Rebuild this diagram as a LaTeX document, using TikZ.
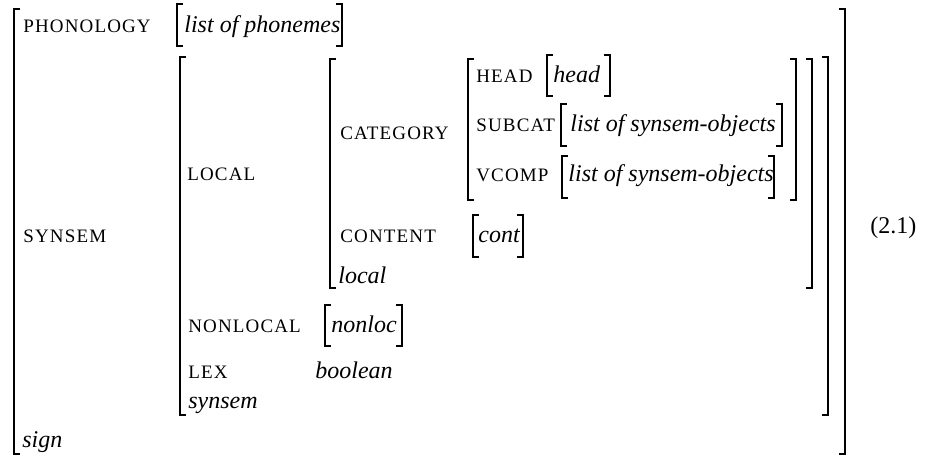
\documentclass[tikz,border=0pt,12pt]{standalone}
\usepackage{fontspec}
\setmainfont{Liberation Serif}
\newfontfamily\featfont[LetterSpace=6]{Liberation Serif}

\tikzset{
  feat/.style={anchor=base west,inner sep=0pt,font=\featfont\fontsize{9.5}{12}\selectfont},
  val/.style={anchor=base west,inner sep=0pt,font=\itshape},
  brack/.style={line width=0.6pt},
  brackend/.style={line width=1pt},
}
% brackets: x, top, bottom (y counts downwards)
\newcommand*{\LBr}[3]{%
  \pgfmathsetmacro{\endlen}{min(44,(#3-#2)/2)}%
  \draw[brack] (#1,#2) -- (#1,#3);
  \draw[brackend] (#1+6,#2) -- (#1,#2) -- (#1,#2+\endlen);
  \draw[brackend] (#1+6,#3) -- (#1,#3) -- (#1,#3-\endlen);}
\newcommand*{\RBr}[3]{%
  \pgfmathsetmacro{\endlen}{min(44,(#3-#2)/2)}%
  \draw[brack] (#1,#2) -- (#1,#3);
  \draw[brackend] (#1-6,#2) -- (#1,#2) -- (#1,#2+\endlen);
  \draw[brackend] (#1-6,#3) -- (#1,#3) -- (#1,#3-\endlen);}

\begin{document}
\begin{tikzpicture}[x=0.5pt,y=-0.5pt]
\useasboundingbox (0,0) rectangle (925,456);
% sign level
\node[feat] (phon) at (23,32) {PHONOLOGY};
\node[val] (phonval) at (184,32) {list of phonemes};
\node[feat] (synsem) at (23,242) {SYNSEM};
\node[val] (sign) at (22,447) {sign};
% synsem level
\node[feat] (local) at (187,180) {LOCAL};
\node[feat] (nonlocal) at (188,332) {NONLOCAL};
\node[val] (nonlocval) at (331,332) {nonloc};
\node[feat] (lex) at (188,378) {LEX};
\node[val] (lexval) at (315,378) {boolean};
\node[val] (synsemtype) at (188,408) {synsem};
% local level
\node[feat] (category) at (340,139) {CATEGORY};
\node[feat] (content) at (340,242) {CONTENT};
\node[val] (contval) at (478,242) {cont};
\node[val] (localtype) at (338,283) {local};
% category level
\node[feat] (head) at (476,82) {HEAD};
\node[val] (headval) at (553,82) {head};
\node[feat] (subcat) at (476,131) {SUBCAT};
\node[val] (subcatval) at (570,131) {list of synsem-objects};
\node[feat] (vcomp) at (476,181) {VCOMP};
\node[val] (vcompval) at (568,181) {list of synsem-objects};
\node[anchor=base west,inner sep=0pt] (eqno) at (870,233) {(2.1)};
%%%%%%%%%%%%%%%%%%%%%%%%%%%%%%
\LBr{14}{9}{454}   \RBr{845}{9}{454}
\LBr{177}{4}{46}   \RBr{342}{4}{46}
\LBr{180}{57}{415} \RBr{828}{57}{415}
\LBr{330}{59}{288} \RBr{812}{59}{288}
\LBr{468}{59}{200} \RBr{796}{59}{200}
\LBr{547}{55}{96}  \RBr{610}{55}{96}
\LBr{561}{104}{146} \RBr{782}{104}{146}
\LBr{562}{156}{198} \RBr{774}{156}{198}
\LBr{473}{215}{257} \RBr{523}{215}{257}
\LBr{325}{305}{346} \RBr{402}{305}{346}
\end{tikzpicture}
\end{document}
